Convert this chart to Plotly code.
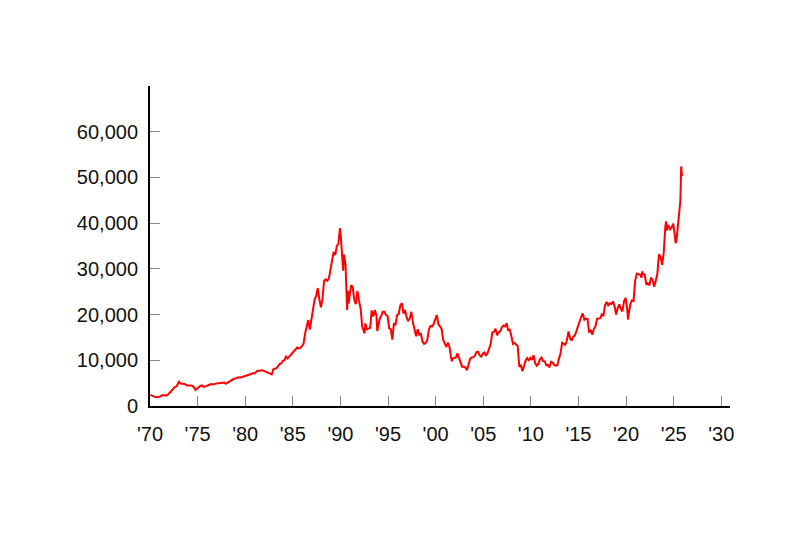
import plotly.graph_objects as go

dates = [
"1970-01","1970-03","1970-05","1970-07","1970-09","1970-11",
"1971-01","1971-03","1971-05","1971-07","1971-09","1971-11","1971-12",
"1972-02","1972-04","1972-06","1972-08","1972-10","1972-12",
"1973-01","1973-03","1973-05","1973-07","1973-09","1973-11",
"1974-01","1974-03","1974-05","1974-07","1974-09","1974-10","1974-12",
"1975-02","1975-04","1975-06","1975-08","1975-10","1975-12",
"1976-02","1976-04","1976-06","1976-08","1976-10","1976-12",
"1977-02","1977-04","1977-06","1977-08","1977-10","1977-12",
"1978-02","1978-04","1978-06","1978-08","1978-10","1978-12",
"1979-02","1979-04","1979-06","1979-08","1979-10","1979-12",
"1980-02","1980-04","1980-06","1980-08","1980-10","1980-12",
"1981-02","1981-04","1981-06","1981-08","1981-10","1981-12",
"1982-02","1982-04","1982-06","1982-08","1982-10","1982-12",
"1983-02","1983-04","1983-06","1983-08","1983-10","1983-12",
"1984-02","1984-04","1984-06","1984-08","1984-10","1984-12",
"1985-02","1985-04","1985-06","1985-08","1985-10","1985-12",
"1986-02","1986-04","1986-06","1986-08","1986-10","1986-12",
"1987-02","1987-04","1987-06","1987-08","1987-10","1987-11","1987-12",
"1988-02","1988-04","1988-06","1988-08","1988-10","1988-12",
"1989-02","1989-04","1989-06","1989-08","1989-10","1989-12",
"1990-01","1990-02","1990-03","1990-04","1990-05","1990-06","1990-07","1990-08","1990-09","1990-10","1990-11","1990-12",
"1991-02","1991-04","1991-06","1991-08","1991-10","1991-12",
"1992-02","1992-04","1992-06","1992-07","1992-08","1992-10","1992-12",
"1993-02","1993-04","1993-06","1993-08","1993-10","1993-11","1993-12",
"1994-02","1994-04","1994-06","1994-08","1994-10","1994-12",
"1995-02","1995-04","1995-06","1995-08","1995-10","1995-12",
"1996-02","1996-04","1996-06","1996-08","1996-10","1996-12",
"1997-02","1997-04","1997-06","1997-08","1997-10","1997-12",
"1998-02","1998-04","1998-06","1998-08","1998-10","1998-12",
"1999-02","1999-04","1999-06","1999-08","1999-10","1999-12",
"2000-02","2000-04","2000-06","2000-08","2000-10","2000-12",
"2001-02","2001-04","2001-06","2001-08","2001-09","2001-10","2001-12",
"2002-02","2002-04","2002-06","2002-08","2002-10","2002-12",
"2003-02","2003-04","2003-06","2003-08","2003-10","2003-12",
"2004-02","2004-04","2004-06","2004-08","2004-10","2004-12",
"2005-02","2005-04","2005-06","2005-08","2005-10","2005-12",
"2006-02","2006-04","2006-06","2006-08","2006-10","2006-12",
"2007-02","2007-04","2007-06","2007-08","2007-10","2007-12",
"2008-02","2008-04","2008-06","2008-08","2008-10","2008-12",
"2009-02","2009-04","2009-06","2009-08","2009-10","2009-12",
"2010-02","2010-04","2010-06","2010-08","2010-10","2010-12",
"2011-02","2011-04","2011-06","2011-08","2011-10","2011-12",
"2012-02","2012-04","2012-06","2012-08","2012-10","2012-12",
"2013-02","2013-04","2013-06","2013-08","2013-10","2013-12",
"2014-02","2014-04","2014-06","2014-08","2014-10","2014-12",
"2015-02","2015-04","2015-06","2015-08","2015-10","2015-12",
"2016-02","2016-04","2016-06","2016-08","2016-10","2016-12",
"2017-02","2017-04","2017-06","2017-08","2017-10","2017-12",
"2018-02","2018-04","2018-06","2018-08","2018-10","2018-12",
"2019-02","2019-04","2019-06","2019-08","2019-10","2019-12",
"2020-02","2020-03","2020-04","2020-06","2020-08","2020-10","2020-12",
"2021-02","2021-04","2021-06","2021-08","2021-09","2021-10","2021-12",
"2022-02","2022-04","2022-06","2022-08","2022-10","2022-12",
"2023-02","2023-04","2023-06","2023-08","2023-10","2023-12",
"2024-02","2024-03","2024-04","2024-06","2024-07","2024-08","2024-10","2024-12",
"2025-02","2025-03","2025-04","2025-05","2025-06","2025-07","2025-08","2025-09","2025-10","2025-11",
]

closes = [
2450,2300,2000,1950,1930,1980,
2050,2250,2400,2350,2250,2450,2714,
3000,3400,3800,4200,4300,5208,
5300,4950,4900,4800,4750,4500,
4500,4400,4500,4300,3900,3500,3817,
4200,4400,4500,4200,4300,4359,
4550,4700,4800,4700,4800,4991,
5000,5000,5100,5100,5150,4866,
5100,5400,5600,5800,5900,6002,
6100,6300,6200,6300,6400,6569,
6600,6800,6900,7000,7200,7116,
7400,7700,7700,7800,7800,7682,
7500,7300,7100,7000,6900,8017,
8100,8300,8700,9200,9300,9894,
10000,10800,10400,10800,11100,11543,
12100,12400,12800,12600,12700,13113,
13600,15800,17600,18800,16700,18701,
21000,23300,24100,25800,23300,22700,21564,
23600,27400,27700,27400,27900,30159,
32000,33700,33000,35000,35500,38916,
37189,34591,29980,29584,33131,31940,31036,25978,20984,25194,22455,23849,
26400,26100,23300,22300,25200,22984,
21300,17400,16000,15900,18061,16800,16925,
17100,20900,19600,21000,19700,16400,17417,
19100,19700,20600,20600,19900,19723,
17000,16800,14500,18100,17700,19868,
20100,22000,22500,20200,21000,19361,
18500,19200,20600,18200,16500,15259,
16800,15600,15800,14100,13600,13842,
14400,16700,17500,17400,17900,18934,
19900,17900,17400,16900,14500,13786,
12900,13900,12900,10700,9800,10400,10543,
10600,11500,10600,9600,8600,8579,
8400,7800,9100,10300,10600,10677,
11000,11800,11900,11100,10800,11489,
11700,11000,11600,12400,13600,16111,
16200,16900,15500,16100,16400,17226,
17600,17400,18100,16600,16700,15308,
13600,13800,13500,13100,8600,8860,
7600,8800,9950,10500,10000,10546,
10100,11100,9400,8800,9200,10229,
10600,9850,9800,8950,8990,8455,
9700,9500,9000,8840,8930,10395,
11560,13860,13680,13390,14330,16291,
14840,14300,15160,15420,16410,17450,
18800,19520,20240,18890,19080,19034,
16030,16670,15580,16890,17430,19114,
19120,19200,20030,19650,22010,22765,
22070,22470,22300,22870,21920,20015,
21390,22260,21280,20700,22930,23657,
21140,18917,20190,22290,23140,22980,27444,
28970,28810,28790,28090,29450,28890,28792,
26530,26850,26390,28090,27590,26095,
27450,28860,33190,32620,30860,33464,
39166,40369,38406,39583,39102,38648,39081,39895,
37156,35618,36045,37965,40487,41070,42718,44933,52411,50254,
]

tick_years = [1970, 1975, 1980, 1985, 1990, 1995, 2000, 2005, 2010, 2015, 2020, 2025, 2030]
tick_text = ["'70", "'75", "'80", "'85", "'90", "'95", "'00", "'05", "'10", "'15", "'20", "'25", "'30"]
y_ticks = [0, 10000, 20000, 30000, 40000, 50000, 60000]

fig = go.Figure(go.Scatter(
    x=[d + "-15" for d in dates], y=closes, mode="lines",
    line=dict(color="#ff0000", width=2), hoverinfo="skip"))

font = dict(family="Liberation Sans, Arial, sans-serif", size=20, color="#111111")
fig.update_layout(
    width=800, height=533, margin=dict(l=150, r=70, t=86, b=127),
    paper_bgcolor="white", plot_bgcolor="white", showlegend=False,
    font=font,
)
fig.update_xaxes(
    type="date", range=["1970-01-01", "2030-12-01"],
    tickvals=[f"{y}-01-01" for y in tick_years], ticktext=tick_text,
    ticks="inside", ticklen=10, tickwidth=1, tickcolor="#888888",
    showline=True, linecolor="black", linewidth=2, showgrid=False, zeroline=False,
    ticklabelstandoff=9, tickfont=font,
)
fig.update_yaxes(
    range=[0, 70000], tickvals=y_ticks, tickformat=",",
    ticks="inside", ticklen=10, tickwidth=1, tickcolor="#888888",
    showline=True, linecolor="black", linewidth=2, showgrid=False, zeroline=False,
    ticklabelstandoff=6, tickfont=font,
)
fig.write_html("out.html")
